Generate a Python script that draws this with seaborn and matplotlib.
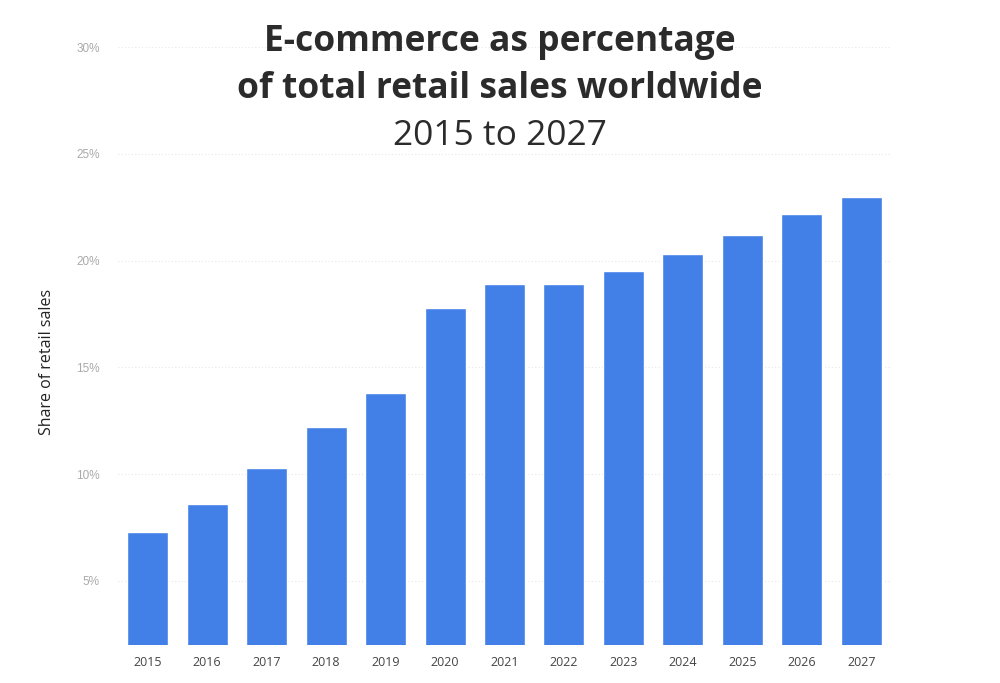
import matplotlib
matplotlib.use("Agg")
import matplotlib.pyplot as plt
import seaborn as sns
import pandas as pd

years = ["2015", "2016", "2017", "2018", "2019", "2020", "2021",
         "2022", "2023", "2024", "2025", "2026", "2027"]
share = [7.3, 8.6, 10.3, 12.2, 13.8, 17.8, 18.9, 18.9, 19.5, 20.3, 21.2, 22.2, 23.0]
yticks = [5, 10, 15, 20, 25, 30]
ytick_labels = ["5%", "10%", "15%", "20%", "25%", "30%"]

df = pd.DataFrame({"year": years, "share": share})

sns.set_theme(style="white")
plt.rcParams["font.family"] = ["Open Sans", "DejaVu Sans"]

fig = plt.figure(figsize=(10, 6.83), dpi=100)
ax = fig.add_axes([0.118, 0.0556, 0.773, 0.8755])

sns.barplot(data=df, x="year", y="share", color="#4280E8", saturation=1,
            width=0.69, ax=ax, zorder=3)

ax.set_ylim(2, 30)
ax.set_xlim(-0.5, 12.5)
ax.set_yticks(yticks)
ax.set_yticklabels(ytick_labels, color="#aaaaaa", fontsize=8.5, family=["Liberation Sans", "DejaVu Sans"])
ax.tick_params(axis="y", length=0, pad=13)
ax.tick_params(axis="x", length=0, pad=8, labelsize=9, labelcolor="#444444")
for lab in ax.get_xticklabels():
    lab.set_family(["Open Sans", "DejaVu Sans"])
ax.grid(axis="y", color="#e8e8e8", linestyle=(0, (1, 2)), linewidth=0.8, zorder=0)
ax.set_xlabel("")
ax.set_ylabel("Share of retail sales", fontsize=11.5, color="#222222")
ax.yaxis.set_label_coords(-0.082, 0.473)
for s in ax.spines.values():
    s.set_visible(False)

fig.text(0.5, 1 - 51/683, "E-commerce as percentage", ha="center", va="baseline",
         fontsize=25.5, fontweight="bold", color="#2b2b2b")
fig.text(0.5, 1 - 98/683, "of total retail sales worldwide", ha="center", va="baseline",
         fontsize=25.5, fontweight="bold", color="#2b2b2b")
fig.text(0.5, 1 - 145/683, "2015 to 2027", ha="center", va="baseline",
         fontsize=25.5, color="#2b2b2b")

fig.savefig("out.png", dpi=100, facecolor="white")
